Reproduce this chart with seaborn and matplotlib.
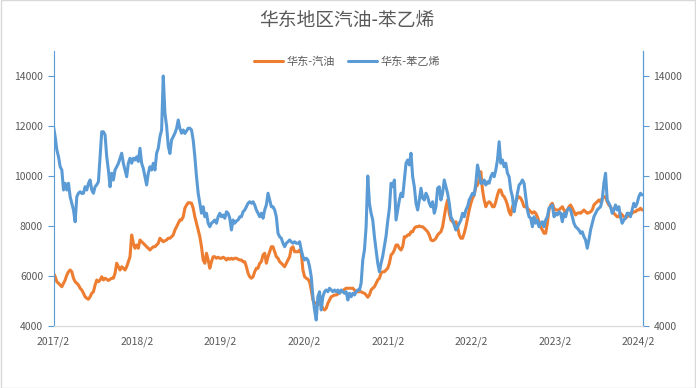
import seaborn as sns
import matplotlib.pyplot as plt
import matplotlib.dates as mdates
import pandas as pd

# 华东地区汽油 / 苯乙烯 价格 (元/吨), 约每周一个点
gasoline = [
    6110, 5970, 5770, 5710, 5640, 5570, 5710, 5840, 6040, 6170,
    6240, 6170, 5910, 5770, 5710, 5640, 5510, 5440, 5310, 5170,
    5110, 5070, 5170, 5310, 5370, 5640, 5840, 5770, 5840, 5970,
    5840, 5910, 5870, 5820, 5870, 5910, 5910, 6110, 6510, 6370,
    6240, 6370, 6310, 6240, 6370, 6570, 6770, 7640, 7310, 7110,
    7240, 7110, 7440, 7370, 7310, 7240, 7170, 7110, 7040, 7110,
    7170, 7170, 7240, 7310, 7510, 7440, 7370, 7410, 7440, 7510,
    7510, 7570, 7640, 7840, 7970, 8110, 8240, 8240, 8370, 8710,
    8840, 8930, 8930, 8910, 8710, 8370, 8110, 7840, 7570, 7170,
    6640, 6510, 6910, 6640, 6310, 6570, 6770, 6770, 6710, 6750,
    6710, 6710, 6750, 6710, 6640, 6710, 6670, 6710, 6670, 6710,
    6710, 6670, 6640, 6640, 6570, 6570, 6370, 6110, 5970, 5910,
    5970, 6170, 6310, 6310, 6510, 6570, 6840, 6910, 6510, 6770,
    6970, 7170, 7170, 6970, 6770, 6710, 6570, 6510, 6440, 6370, 6510,
    6640, 6770, 7110, 7170, 6970, 6970, 6970, 7040, 6910, 6240,
    5970, 5910, 5870, 5770, 5440, 5040, 4910, 4910, 4840, 4910,
    4840, 4710, 4640, 4710, 4910, 5040, 5170, 5200, 5240, 5240,
    5280, 5330, 5370, 5410, 5470, 5510, 5510, 5510, 5510, 5510,
    5440, 5370, 5370, 5370, 5370, 5330, 5310, 5240, 5150, 5240,
    5440, 5510, 5570, 5710, 5840, 5910, 6110, 6170, 6170, 6240,
    6310, 6510, 6840, 6910, 7040, 7240, 7240, 7110, 7040, 7170, 7570,
    7570, 7640, 7640, 7770, 7770, 7910, 7970, 7970, 8000, 7970,
    7970, 7910, 7840, 7770, 7640, 7440, 7410, 7440, 7510, 7640,
    7710, 7770, 7970, 8370, 8770, 9040, 8510, 8240, 8170, 8110,
    8170, 7970, 7640, 7510, 7510, 7710, 7970, 8310, 8640, 8910,
    9110, 9240, 9570, 9640, 9840, 10170, 9440, 9040, 8770, 8910,
    8970, 8910, 8770, 8770, 8970, 9240, 9440, 9440, 9240, 9170,
    9040, 8840, 8570, 8440, 8770, 8910, 8970, 9110, 9170, 9110, 8970,
    8770, 8770, 8710, 8640, 8570, 8510, 8570, 8510, 8370, 8170,
    7970, 7840, 7710, 7710, 8110, 8640, 8840, 8910, 8710, 8640,
    8640, 8640, 8710, 8770, 8640, 8570, 8640, 8770, 8840, 8710,
    8570, 8440, 8510, 8530, 8510, 8570, 8640, 8570, 8510, 8530,
    8570, 8640, 8840, 8910, 8970, 9040, 8970, 9110, 9170, 9170,
    8970, 8840, 8770, 8640, 8510, 8440, 8370, 8370, 8510, 8440,
    8370, 8310, 8370, 8440, 8510, 8510, 8570, 8570, 8640, 8640, 8710, 8640,
]

styrene = [
    11970, 11570, 11040, 10770, 10370, 10240, 9440, 9710, 9440, 9710,
    9170, 8900, 8640, 8170, 9170, 9310, 9370, 9300, 9310, 9570,
    9440, 9700, 9840, 9440, 9310, 9570, 9650, 9770, 10770, 11770,
    11770, 11640, 10770, 10240, 9570, 10110, 9840, 10240, 10370, 10500,
    10710, 10910, 10510, 10240, 9970, 10510, 10710, 10510, 10710, 10640,
    10770, 10580, 11110, 10510, 10300, 9970, 9640, 10110, 10370, 10240,
    10510, 10240, 10910, 11110, 11570, 11840, 14000, 12510, 12000, 11200,
    10900, 11440, 11570, 11710, 11900, 12240, 11900, 11710, 11840, 11700,
    11800, 11910, 11910, 11840, 11440, 10770, 9970, 9310, 8910, 8510,
    8770, 8370, 8510, 8110, 7970, 8110, 8170, 8240, 8110, 8370,
    8510, 8370, 8440, 8310, 8570, 8510, 8310, 7840, 8240, 8110,
    8200, 8240, 8370, 8370, 8570, 8640, 8770, 8910, 8970, 8910,
    8970, 8840, 8640, 8510, 8370, 8510, 8310, 8640, 8840, 9310,
    9040, 8770, 8770, 8640, 8370, 7710, 7570, 7510, 7310, 7170, 7310,
    7370, 7440, 7370, 7310, 7370, 7310, 7310, 7370, 7040, 6770,
    6640, 6710, 6640, 6370, 5970, 5170, 4640, 4240, 5170, 5370,
    4640, 5170, 5370, 5440, 5370, 5510, 5440, 5370, 5440, 5370,
    5440, 5310, 5440, 5370, 5310, 5370, 5040, 5310, 5170, 5310,
    5240, 5370, 5440, 5440, 5710, 6640, 7040, 7970, 10000, 8910,
    8510, 8240, 7570, 7040, 6510, 6170, 6510, 6800, 7200, 7600,
    8200, 8700, 9710, 9570, 9840, 8240, 8640, 9040, 9310, 9170, 9840,
    10510, 10640, 10440, 10910, 9970, 9570, 8910, 8640, 9040, 9510,
    9110, 9040, 9310, 9170, 8910, 8770, 8970, 8510, 8770, 9510,
    9570, 9040, 9310, 9840, 9570, 9310, 8910, 8370, 8240, 8040,
    7840, 7970, 8110, 8240, 8510, 8370, 8640, 8770, 9040, 9170,
    9310, 9240, 9710, 10440, 10110, 9710, 9710, 9840, 9640, 9770,
    9710, 9970, 10110, 9970, 10240, 10640, 11370, 10510, 10640, 10370,
    10510, 10110, 9970, 9440, 9170, 8570, 8910, 9310, 9640, 9710, 9840,
    9710, 9170, 8640, 8370, 8310, 7970, 8370, 8110, 8240, 7970,
    8110, 8170, 7970, 8240, 8370, 8710, 8770, 8840, 8370, 8510,
    8440, 8570, 8510, 8170, 8510, 8370, 8640, 8710, 8640, 8370,
    8110, 7970, 7910, 7840, 7710, 7770, 7570, 7440, 7110, 7440,
    7840, 8110, 8370, 8510, 8640, 8710, 8770, 9040, 9710, 10110,
    9040, 8910, 8770, 8510, 8640, 8840, 8640, 8770, 8370, 8110,
    8240, 8310, 8510, 8510, 8370, 8640, 8910, 8770, 8910, 9170, 9310, 9240,
]

start_date = "2017-02-01"
end_date = "2024-02-18"
tick_years = list(range(2017, 2025))

ORANGE = "#ED7D31"
BLUE = "#5B9BD5"
GREY = "#595959"

sns.set_style("white")
plt.rcParams["font.family"] = ["Noto Sans CJK SC", "DejaVu Sans"]

d_gas = pd.DataFrame({"date": pd.date_range(start_date, end_date, periods=len(gasoline)),
                      "价格": gasoline})
d_sty = pd.DataFrame({"date": pd.date_range(start_date, end_date, periods=len(styrene)),
                      "价格": styrene})

fig = plt.figure(figsize=(6.96, 3.88), dpi=100)
ax = fig.add_axes([0.0769, 0.1598, 0.847, 0.7088])
ax2 = ax.twinx()

sns.lineplot(data=d_gas, x="date", y="价格", ax=ax, color=ORANGE, linewidth=2.2, label="华东-汽油", legend=False)
sns.lineplot(data=d_sty, x="date", y="价格", ax=ax2, color=BLUE, linewidth=2.2, label="华东-苯乙烯", legend=False)

for a in (ax, ax2):
    a.set_ylim(4000, 15000)
    a.set_yticks(range(4000, 15000, 2000))
    a.set_ylabel("")
    a.set_xlabel("")
    a.spines["top"].set_visible(False)
    a.spines["bottom"].set_color("#D9D9D9")
    a.spines["left"].set_color(BLUE)
    a.spines["right"].set_color(BLUE)

ax.set_xlim(pd.Timestamp(start_date), pd.Timestamp("2024-02-22"))
ax.set_xticks([pd.Timestamp(f"{y}-02-01") for y in tick_years])
ax.xaxis.set_major_formatter(mdates.DateFormatter("%Y/%-m"))
ax.tick_params(axis="x", colors="#D9D9D9", labelcolor=GREY, labelsize=7.5, length=4, direction="out")
ax.tick_params(axis="y", colors=BLUE, labelcolor=GREY, labelsize=7.5, length=4, direction="out", left=True)
ax2.tick_params(axis="y", colors=BLUE, labelcolor=GREY, labelsize=7.5, length=4, direction="out", right=True)
ax2.spines["left"].set_visible(False)

fig.suptitle("华东地区汽油-苯乙烯", x=0.498, y=0.975, fontsize=13.5, color=GREY)

h1, l1 = ax.get_legend_handles_labels()
h2, l2 = ax2.get_legend_handles_labels()
fig.legend(h1 + h2, l1 + l2, loc="center", bbox_to_anchor=(347 / 696, 1 - 62 / 388), ncol=2,
           frameon=False, fontsize=8, labelcolor=GREY, handlelength=2.6, columnspacing=1.2,
           handletextpad=0.3)

fig.add_artist(plt.Rectangle((0.001, 0.001), 0.998, 0.998, transform=fig.transFigure,
                             fill=False, edgecolor="#D9D9D9", linewidth=1))

fig.savefig("out.png", dpi=100)
